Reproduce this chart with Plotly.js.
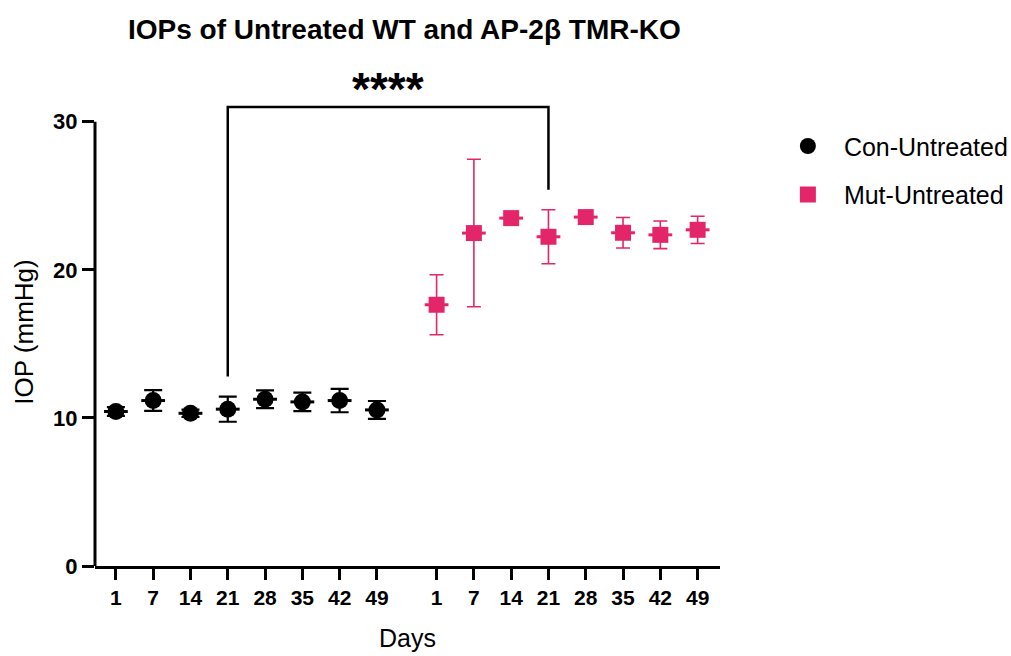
<!DOCTYPE html>
<html>
<head>
<meta charset="utf-8">
<script src="https://cdn.plot.ly/plotly-3.0.1.min.js"></script>
<style>html,body{margin:0;padding:0;background:#fff;}#chart{width:1011px;height:656px;}</style>
</head>
<body>
<div id="chart"></div>
<script>
// Categories (days) for each group
const days = ["1", "7", "14", "21", "28", "35", "42", "49"];
// Positions along the x axis: group 1 then group 2 after a gap
const conPos = [0, 1, 2, 3, 4, 5, 6, 7];
const mutPos = [8.6, 9.6, 10.6, 11.6, 12.6, 13.6, 14.6, 15.6];

// Series values (IOP, mmHg) and SEM
const conMean = [10.43, 11.17, 10.31, 10.59, 11.26, 11.08, 11.17, 10.54];
const conErr  = [0.3, 0.7, 0.25, 0.85, 0.6, 0.62, 0.79, 0.6];
const mutMean = [17.64, 22.48, 23.49, 22.23, 23.56, 22.5, 22.36, 22.7];
const mutErr  = [2.03, 4.98, 0.3, 1.82, 0.3, 1.03, 0.93, 0.92];

// Significance bracket
const bracketFrom = 3, bracketTo = 11.6;
const bracketLeftBottom = 12.8, bracketTop = 31.0, bracketRightBottom = 25.4;
const sigLabel = "****";

const black = "#000000";
const pink = "#e3266a";

const traces = [
  {
    x: conPos, y: conMean, type: "scatter", mode: "markers", name: "Con-Untreated",
    marker: {symbol: "circle", size: 17, color: black},
    error_y: {type: "data", array: conErr, visible: true, color: black, thickness: 2.2, width: 9},
    legendgroup: "a"
  },
  {
    x: conPos, y: conMean, type: "scatter", mode: "markers", showlegend: false, hoverinfo: "skip",
    marker: {symbol: "line-ew", size: 17, line: {color: black, width: 3}}
  },
  {
    x: mutPos, y: mutMean, type: "scatter", mode: "markers", name: "Mut-Untreated",
    marker: {symbol: "square", size: 16, color: pink},
    error_y: {type: "data", array: mutErr, visible: true, color: pink, thickness: 1.6, width: 7},
    legendgroup: "b"
  },
  {
    x: mutPos, y: mutMean, type: "scatter", mode: "markers", showlegend: false, hoverinfo: "skip",
    marker: {symbol: "line-ew", size: 17, line: {color: pink, width: 3}}
  }
];

const layout = {
  width: 1011, height: 656,
  paper_bgcolor: "#fff", plot_bgcolor: "#fff",
  margin: {l: 95, r: 291, t: 98, b: 90, autoexpand: false},
  font: {family: "Liberation Sans, Arial, sans-serif", color: black},
  title: {
    text: "<b>IOPs of Untreated WT and AP-2β TMR-KO</b>",
    font: {size: 28, color: black, family: "Liberation Sans, Arial, sans-serif"},
    xref: "container", x: 0.4, xanchor: "center",
    yref: "container", y: 0.955, yanchor: "middle"
  },
  xaxis: {
    range: [-0.56, 16.2],
    tickmode: "array",
    tickvals: conPos.concat(mutPos),
    ticktext: days.concat(days),
    ticks: "outside", ticklen: 11, tickwidth: 3, tickcolor: black,
    showline: true, linewidth: 3, linecolor: black,
    showgrid: false, zeroline: false,
    tickfont: {size: 21, family: "Liberation Sans, Arial, sans-serif", weight: "bold"},
    title: {text: "Days", font: {size: 25}, standoff: 22}
  },
  yaxis: {
    range: [0, 31.6],
    tickmode: "array", tickvals: [0, 10, 20, 30], ticktext: ["0", "10", "20", "30"],
    ticks: "outside", ticklen: 12, tickwidth: 3, tickcolor: black,
    showline: false, showgrid: false, zeroline: false,
    tickfont: {size: 22, family: "Liberation Sans, Arial, sans-serif", weight: "bold"},
    title: {text: "IOP (mmHg)", font: {size: 26}, standoff: 12}
  },
  showlegend: true,
  legend: {
    x: 1.083, xanchor: "left", y: 0.946, yanchor: "top",
    font: {size: 25, color: black},
    traceorder: "grouped", tracegroupgap: 13, itemwidth: 62,
    bgcolor: "rgba(0,0,0,0)"
  },
  shapes: [
    {type: "line", xref: "paper", yref: "paper", x0: 0, x1: 0, y0: 0, y1: 30 / 31.6,
     line: {color: black, width: 3}},
    {type: "path", xref: "x", yref: "y",
     path: `M ${bracketFrom},${bracketLeftBottom} L ${bracketFrom},${bracketTop} L ${bracketTo},${bracketTop} L ${bracketTo},${bracketRightBottom}`,
     line: {color: black, width: 2.5}}
  ],
  annotations: [
    {text: "<b>" + sigLabel + "</b>", xref: "x", x: (bracketFrom + bracketTo) / 2,
     yref: "paper", y: 1.02, yanchor: "middle", showarrow: false,
     font: {size: 46, color: black}}
  ]
};

Plotly.newPlot("chart", traces, layout, {displayModeBar: false, staticPlot: true});
</script>
</body>
</html>
